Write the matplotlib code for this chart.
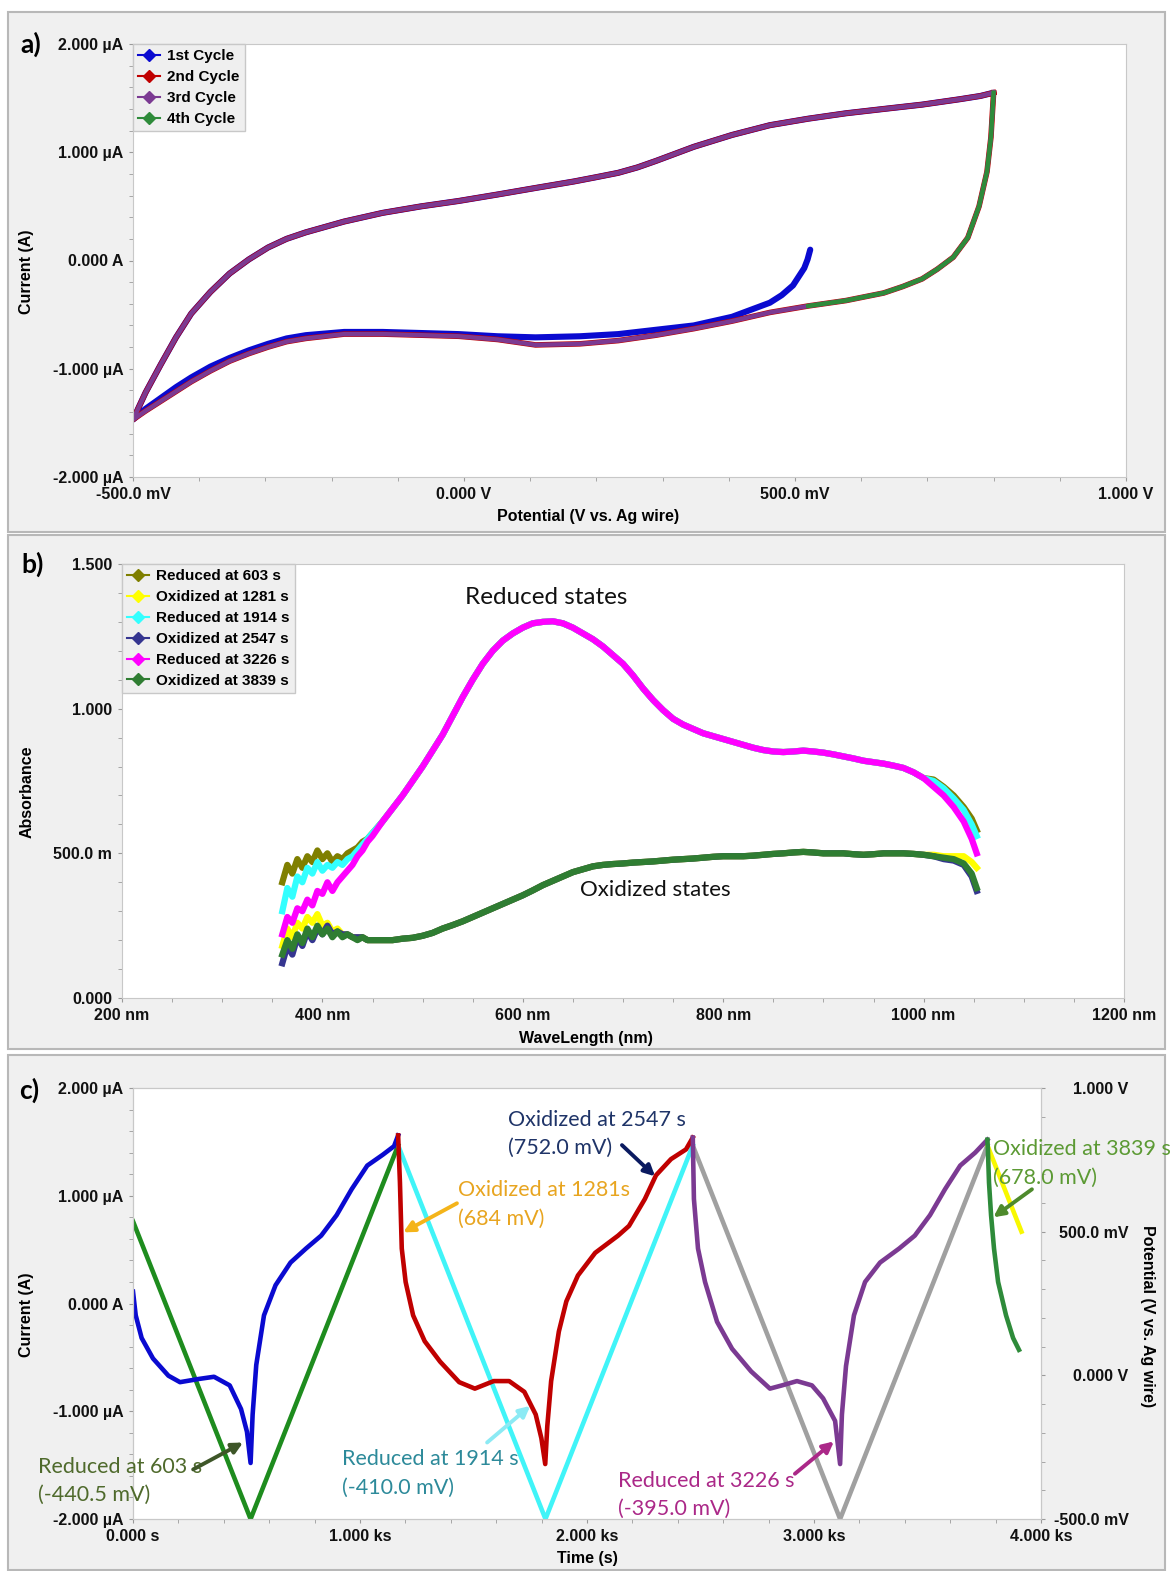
import matplotlib
matplotlib.use("Agg")
import matplotlib.pyplot as plt
from matplotlib.lines import Line2D
from matplotlib.patches import Rectangle
from matplotlib.ticker import MultipleLocator

# ---------------- data: a) cyclic voltammetry ----------------
cv_up_v = [-0.500, -0.481, -0.458, -0.435, -0.412, -0.383, -0.354, -0.325, -0.296, -0.268, -0.239,
           -0.210, -0.181, -0.123, -0.065, -0.008, 0.051, 0.108, 0.166, 0.200, 0.233, 0.262, 0.290,
           0.347, 0.405, 0.462, 0.520, 0.577, 0.634, 0.692, 0.749, 0.780, 0.800]
cv_up_i = [-1.47, -1.22, -0.96, -0.71, -0.49, -0.29, -0.12, 0.01, 0.12, 0.20, 0.26,
           0.31, 0.36, 0.44, 0.50, 0.55, 0.61, 0.67, 0.73, 0.77, 0.81, 0.86, 0.92,
           1.05, 1.16, 1.25, 1.31, 1.36, 1.40, 1.44, 1.49, 1.52, 1.55]

cv_down_v = [0.800, 0.796, 0.790, 0.778, 0.761, 0.739, 0.715, 0.692, 0.663, 0.634, 0.577, 0.520,
             0.462, 0.405, 0.347, 0.290, 0.233, 0.175, 0.108, 0.051, -0.008, -0.065,
             -0.123, -0.181, -0.239, -0.268, -0.296, -0.325, -0.354, -0.383, -0.412, -0.435,
             -0.458, -0.481, -0.500]
cv_down_i = [1.55, 1.14, 0.82, 0.50, 0.21, 0.03, -0.08, -0.17, -0.24, -0.30, -0.37, -0.42,
             -0.48, -0.56, -0.63, -0.69, -0.74, -0.77, -0.78, -0.73, -0.70, -0.69,
             -0.68, -0.68, -0.72, -0.75, -0.80, -0.86, -0.93, -1.02, -1.12, -1.21,
             -1.30, -1.39, -1.47]

cv_first_v = [0.523, 0.519, 0.514, 0.497, 0.480, 0.462, 0.405, 0.347, 0.290, 0.233, 0.175, 0.108,
              0.051, -0.008, -0.065, -0.123, -0.181, -0.239, -0.268, -0.296, -0.325, -0.354, -0.383,
              -0.412, -0.435, -0.458, -0.481, -0.500]
cv_first_i = [0.10, 0.01, -0.07, -0.23, -0.32, -0.39, -0.52, -0.60, -0.64, -0.68, -0.70, -0.71,
              -0.70, -0.68, -0.67, -0.66, -0.66, -0.69, -0.72, -0.77, -0.83, -0.90, -0.98,
              -1.08, -1.17, -1.27, -1.37, -1.47]

cv_fourth_v = [0.800, 0.796, 0.790, 0.778, 0.761, 0.739, 0.715, 0.692, 0.663, 0.634, 0.577, 0.520]
cv_fourth_i = [1.55, 1.14, 0.82, 0.50, 0.21, 0.03, -0.08, -0.17, -0.24, -0.30, -0.37, -0.42]

cycle_names = ["1st Cycle", "2nd Cycle", "3rd Cycle", "4th Cycle"]
cycle_colors = ["#0a0ad0", "#c00000", "#7b3a92", "#2e8b3a"]

# ---------------- data: b) spectra ----------------
wl_head = [360, 365, 370, 375, 380, 385, 390, 395, 400, 405, 410, 415, 420, 425, 430, 435, 440, 445, 450]
wl_body = [460, 470, 480, 490, 500, 510, 520, 530, 540, 550, 560, 570, 580, 590, 600, 610, 620, 630,
           640, 650, 660, 670, 680, 690, 700, 710, 720, 730, 740, 750, 760, 770, 780, 790, 800, 810,
           820, 830, 840, 850, 860, 870, 880, 890, 900, 910, 920, 930, 940, 950, 960, 970, 980, 990, 1000]
wl_tail = [1010, 1020, 1030, 1040, 1048, 1053]

red603_head = [0.40, 0.46, 0.43, 0.48, 0.45, 0.49, 0.47, 0.51, 0.48, 0.50, 0.47, 0.49, 0.48, 0.50, 0.51, 0.52, 0.54, 0.55, 0.57]
red1914_head = [0.30, 0.38, 0.35, 0.42, 0.40, 0.45, 0.43, 0.47, 0.44, 0.46, 0.45, 0.47, 0.46, 0.48, 0.49, 0.51, 0.53, 0.55, 0.57]
red3226_head = [0.22, 0.28, 0.26, 0.31, 0.30, 0.34, 0.32, 0.37, 0.36, 0.40, 0.37, 0.40, 0.42, 0.44, 0.46, 0.49, 0.51, 0.54, 0.56]
ox1281_head = [0.18, 0.24, 0.21, 0.26, 0.24, 0.28, 0.26, 0.29, 0.25, 0.26, 0.23, 0.24, 0.22, 0.22, 0.21, 0.21, 0.21, 0.20, 0.20]
ox2547_head = [0.12, 0.18, 0.15, 0.21, 0.18, 0.23, 0.20, 0.24, 0.22, 0.25, 0.22, 0.23, 0.22, 0.22, 0.21, 0.21, 0.21, 0.20, 0.20]
ox3839_head = [0.15, 0.20, 0.17, 0.22, 0.19, 0.24, 0.21, 0.25, 0.22, 0.24, 0.21, 0.23, 0.21, 0.22, 0.21, 0.20, 0.21, 0.20, 0.20]

red_body = [0.61, 0.655, 0.70, 0.75, 0.80, 0.855, 0.91, 0.975, 1.04, 1.10, 1.155, 1.20, 1.235, 1.26,
            1.28, 1.295, 1.30, 1.302, 1.295, 1.28, 1.26, 1.24, 1.215, 1.185, 1.155, 1.115, 1.07, 1.03,
            0.995, 0.965, 0.945, 0.93, 0.915, 0.905, 0.895, 0.885, 0.875, 0.865, 0.857, 0.852, 0.85,
            0.852, 0.855, 0.852, 0.848, 0.842, 0.835, 0.828, 0.82, 0.815, 0.81, 0.803, 0.795, 0.78, 0.76]
ox_body = [0.20, 0.20, 0.205, 0.208, 0.215, 0.225, 0.24, 0.252, 0.265, 0.28,
           0.295, 0.31, 0.325, 0.34, 0.355, 0.372, 0.39, 0.405, 0.42, 0.435,
           0.445, 0.455, 0.46, 0.463, 0.465, 0.468, 0.47, 0.472, 0.475, 0.478,
           0.48, 0.482, 0.485, 0.488, 0.49, 0.49, 0.49, 0.492, 0.495, 0.498,
           0.50, 0.503, 0.505, 0.503, 0.50, 0.50, 0.50, 0.497, 0.495, 0.497,
           0.50, 0.50, 0.50, 0.498, 0.495]

red603_tail = [0.755, 0.73, 0.70, 0.66, 0.62, 0.58]
red1914_tail = [0.75, 0.725, 0.69, 0.65, 0.60, 0.56]
red3226_tail = [0.73, 0.70, 0.66, 0.61, 0.55, 0.50]
ox1281_tail = [0.495, 0.49, 0.49, 0.49, 0.47, 0.45]
ox2547_tail = [0.49, 0.48, 0.475, 0.46, 0.42, 0.37]
ox3839_tail = [0.49, 0.485, 0.48, 0.465, 0.43, 0.38]

spec_names = ["Reduced at 603 s", "Oxidized at 1281 s", "Reduced at 1914 s",
              "Oxidized at 2547 s", "Reduced at 3226 s", "Oxidized at 3839 s"]
spec_colors = ["#7f7f00", "#ffff00", "#33ffff", "#353590", "#ff00ff", "#2f7d32"]

# ---------------- data: c) current and potential vs time ----------------
t_c1 = [0, 12, 38, 88, 156, 207, 291, 357, 426, 476, 502, 518, 527, 543, 577, 628,
        694, 762, 829, 897, 963, 1032, 1100, 1150, 1168]
i_c1 = [0.11, -0.11, -0.32, -0.51, -0.67, -0.73, -0.70, -0.68, -0.76, -0.98, -1.19, -1.48,
        -1.03, -0.57, -0.11, 0.17, 0.38, 0.51, 0.63, 0.82, 1.06, 1.28, 1.38, 1.46, 1.56]
t_c2 = [1168, 1176, 1184, 1201, 1234, 1285, 1353, 1437, 1506, 1589, 1657, 1724, 1774, 1799,
        1816, 1825, 1842, 1876, 1909, 1960, 2036, 2137, 2185, 2255, 2304, 2370, 2436, 2466]
i_c2 = [1.56, 1.12, 0.51, 0.20, -0.11, -0.35, -0.54, -0.73, -0.79, -0.72, -0.72, -0.82, -1.03,
        -1.25, -1.49, -1.14, -0.72, -0.26, 0.02, 0.26, 0.47, 0.63, 0.72, 0.97, 1.19, 1.34, 1.43, 1.54]
t_c3 = [2466, 2471, 2489, 2520, 2573, 2639, 2723, 2806, 2859, 2925, 2991, 3040, 3093, 3115,
        3123, 3141, 3176, 3225, 3291, 3375, 3444, 3511, 3577, 3644, 3710, 3764]
i_c3 = [1.54, 0.97, 0.51, 0.20, -0.17, -0.42, -0.63, -0.79, -0.76, -0.72, -0.76, -0.88, -1.09,
        -1.49, -1.03, -0.58, -0.11, 0.20, 0.38, 0.51, 0.63, 0.82, 1.06, 1.28, 1.40, 1.52]
t_c4 = [3764, 3766, 3771, 3780, 3793, 3811, 3846, 3877, 3903]
i_c4 = [1.52, 1.43, 1.12, 0.82, 0.51, 0.20, -0.11, -0.32, -0.43]

pot_t = [0, 518, 1168, 1817, 2466, 3115, 3764, 3914]
pot_v = [0.536, -0.5, 0.8, -0.5, 0.8, -0.5, 0.8, 0.5]
pot_colors = ["#1e8c1e", "#40f4f8", "#a0a0a0", "#f8f800"]

# annotation text, text anchor (t, uA), arrow tail, arrow head, text colour, arrow colour
notes = [
    ("Oxidized at 2547 s\n(752.0 mV)", (1652, 1.80), (2154, 1.47), (2300, 1.18), "#1f3468", "#0a1a60"),
    ("Oxidized at 1281s\n(684 mV)", (1432, 1.15), (1427, 0.93), (1190, 0.66), "#e8a520", "#f4b41a"),
    ("Reduced at 603 s\n(-440.5 mV)", (-418, -1.42), (265, -1.54), (485, -1.29), "#4f6a2c", "#3e5628"),
    ("Reduced at 1914 s\n(-410.0 mV)", (921, -1.35), (1560, -1.29), (1750, -0.95), "#2d8a9a", "#8ceaf4"),
    ("Reduced at 3226 s\n(-395.0 mV)", (2137, -1.55), (2916, -1.58), (3088, -1.28), "#ab2888", "#ab2888"),
    ("Oxidized at 3839 s\n(678.0 mV)", (3790, 1.53), (3960, 1.06), (3790, 0.80), "#5c9a34", "#4e8a2c"),
]

# ---------------- figure ----------------
W, H = 1176, 1571
plt.rcParams["font.family"] = ["Liberation Sans", "DejaVu Sans"]
plt.rcParams["font.weight"] = "bold"
fig = plt.figure(figsize=(W / 100, H / 100), dpi=100, facecolor="white")

for (x0, y0, x1, y1) in [(8, 12, 1165, 532), (8, 535, 1165, 1049), (8, 1055, 1165, 1570)]:
    fig.add_artist(Rectangle((x0 / W, 1 - y1 / H), (x1 - x0) / W, (y1 - y0) / H,
                             transform=fig.transFigure, facecolor="#f0f0f0",
                             edgecolor="#b8b8b8", lw=1.5, zorder=0))


def add_ax(l, t, r, b):
    ax = fig.add_axes([l / W, 1 - b / H, (r - l) / W, (b - t) / H])
    for s in ax.spines.values():
        s.set_color("#c8c8c8")
    ax.tick_params(which="both", direction="out", length=3, color="#9a9a9a",
                   labelsize=11.5, pad=4)
    return ax


def style_labels(ax):
    for lab in ax.get_xticklabels() + ax.get_yticklabels():
        lab.set_fontweight("bold")
        lab.set_color("#111111")


note_font = ["Lato", "DejaVu Sans"]
legend_prop = {"family": "Liberation Sans", "weight": "bold", "size": 11}

# ---- a) ----
ax_a = add_ax(133, 44, 1126, 477)
ax_a.plot(cv_first_v + cv_up_v[1:], cv_first_i + cv_up_i[1:], color=cycle_colors[0], lw=4.4,
          solid_capstyle="round", solid_joinstyle="round")
ax_a.plot(cv_down_v + cv_up_v[1:], cv_down_i + cv_up_i[1:], color=cycle_colors[1], lw=4.0,
          solid_joinstyle="round")
ax_a.plot(cv_down_v + cv_up_v[1:], cv_down_i + cv_up_i[1:], color=cycle_colors[2], lw=3.2,
          solid_joinstyle="round")
ax_a.plot(cv_fourth_v, cv_fourth_i, color=cycle_colors[3], lw=3.2, solid_joinstyle="round")
ax_a.set_xlim(-0.5, 1.0)
ax_a.set_ylim(-2, 2)
ax_a.set_xticks([-0.5, 0, 0.5, 1.0])
ax_a.set_xticklabels(["-500.0 mV", "0.000 V", "500.0 mV", "1.000 V"])
ax_a.set_yticks([-2, -1, 0, 1, 2])
ax_a.set_yticklabels(["-2.000 µA", "-1.000 µA", "0.000 A", "1.000 µA", "2.000 µA"])
ax_a.xaxis.set_minor_locator(MultipleLocator(0.1))
ax_a.yaxis.set_minor_locator(MultipleLocator(0.2))
style_labels(ax_a)
handles_a = [Line2D([], [], color=c, lw=1.5, marker="D", ms=6) for c in cycle_colors]
leg = ax_a.legend(handles_a, cycle_names, loc="upper left", bbox_to_anchor=(0, 1),
                  borderaxespad=0, frameon=True, fancybox=False, handlelength=1.4,
                  handletextpad=0.5, labelspacing=0.45, borderpad=0.35, prop=legend_prop)
leg.get_frame().set_facecolor("#efefef")
leg.get_frame().set_edgecolor("#c8c8c8")
leg.get_frame().set_alpha(1)

fig.text(31 / W, 1 - 44 / H, "a)", fontsize=19, fontweight="bold", family=note_font,
         ha="center", va="center")
fig.text(588 / W, 1 - 516 / H, "Potential (V vs. Ag wire)", fontsize=11.5, fontweight="bold",
         ha="center", va="center")
fig.text(27 / W, 1 - 272 / H, "Current (A)", fontsize=11.5, fontweight="bold", rotation=90,
         ha="center", va="center")

# ---- b) ----
ax_b = add_ax(122, 564, 1124, 998)
spec_heads = [red603_head, ox1281_head, red1914_head, ox2547_head, red3226_head, ox3839_head]
spec_tails = [red603_tail, ox1281_tail, red1914_tail, ox2547_tail, red3226_tail, ox3839_tail]
spec_reduced = [True, False, True, False, True, False]
for head, tail, reduced, col in zip(spec_heads, spec_tails, spec_reduced, spec_colors):
    body = red_body if reduced else ox_body
    ax_b.plot(wl_head + wl_body + wl_tail, head + body + tail, color=col, lw=4.5,
              solid_joinstyle="round")
ax_b.set_xlim(200, 1200)
ax_b.set_ylim(0, 1.5)
ax_b.set_xticks([200, 400, 600, 800, 1000, 1200])
ax_b.set_xticklabels(["200 nm", "400 nm", "600 nm", "800 nm", "1000 nm", "1200 nm"])
ax_b.set_yticks([0, 0.5, 1.0, 1.5])
ax_b.set_yticklabels(["0.000", "500.0 m", "1.000", "1.500"])
ax_b.xaxis.set_minor_locator(MultipleLocator(50))
ax_b.yaxis.set_minor_locator(MultipleLocator(0.1))
style_labels(ax_b)
handles_b = [Line2D([], [], color=c, lw=1.5, marker="D", ms=6) for c in spec_colors]
leg = ax_b.legend(handles_b, spec_names, loc="upper left", bbox_to_anchor=(0, 1),
                  borderaxespad=0, frameon=True, fancybox=False, handlelength=1.4,
                  handletextpad=0.5, labelspacing=0.45, borderpad=0.35, prop=legend_prop)
leg.get_frame().set_facecolor("#efefef")
leg.get_frame().set_edgecolor("#c8c8c8")
leg.get_frame().set_alpha(1)
ax_b.text(623, 1.385, "Reduced states", fontsize=17.5, family=note_font, fontweight="normal",
          ha="center", va="center", color="#111111")
ax_b.text(732, 0.374, "Oxidized states", fontsize=16, family=note_font, fontweight="normal",
          ha="center", va="center", color="#111111")

fig.text(33 / W, 1 - 564 / H, "b)", fontsize=19, fontweight="bold", family=note_font,
         ha="center", va="center")
fig.text(586 / W, 1 - 1038 / H, "WaveLength (nm)", fontsize=11.5, fontweight="bold",
         ha="center", va="center")
fig.text(27 / W, 1 - 792 / H, "Absorbance", fontsize=11.5, fontweight="bold", rotation=90,
         ha="center", va="center")

# ---- c) ----
ax_c = add_ax(133, 1088, 1041, 1519)
ax_r = ax_c.twinx()
for s in ax_r.spines.values():
    s.set_color("#c8c8c8")
ax_r.tick_params(which="both", direction="out", length=3, color="#9a9a9a", labelsize=11.5)

for k, col in enumerate(pot_colors):
    if k < 3:
        seg = slice(2 * k, 2 * k + 3)
    else:
        seg = slice(6, 8)
    ax_r.plot(pot_t[seg], pot_v[seg], color=col, lw=3.3, zorder=1)

# current drawn in the potential axes so the traces sit above the triangle wave
for tt, ii, col in zip([t_c1, t_c2, t_c3, t_c4], [i_c1, i_c2, i_c3, i_c4], cycle_colors):
    ax_r.plot(tt, [0.25 + v * 0.375 for v in ii], color=col, lw=3.3, zorder=2,
              solid_joinstyle="round")

ax_c.set_zorder(ax_r.get_zorder() + 1)
ax_c.patch.set_visible(False)
ax_r.patch.set_facecolor("white")
ax_r.patch.set_visible(True)

ax_c.set_xlim(0, 4000)
ax_c.set_ylim(-2, 2)
ax_r.set_ylim(-0.5, 1.0)
ax_c.set_xticks([0, 1000, 2000, 3000, 4000])
ax_c.set_xticklabels(["0.000 s", "1.000 ks", "2.000 ks", "3.000 ks", "4.000 ks"])
ax_c.set_yticks([-2, -1, 0, 1, 2])
ax_c.set_yticklabels(["-2.000 µA", "-1.000 µA", "0.000 A", "1.000 µA", "2.000 µA"])
ax_c.xaxis.set_minor_locator(MultipleLocator(200))
ax_c.yaxis.set_minor_locator(MultipleLocator(0.2))
ax_r.set_yticks([-0.5, 0, 0.5, 1.0])
ax_r.set_yticklabels(["-500.0 mV", "0.000 V", "500.0 mV", "1.000 V"])
ax_r.yaxis.set_minor_locator(MultipleLocator(0.1))
ax_r.tick_params(axis="y", pad=60)
for lab in ax_r.get_yticklabels():
    lab.set_horizontalalignment("right")
style_labels(ax_c)
style_labels(ax_r)

for text, xy_text, tail, head, tcol, acol in notes:
    ax_c.text(xy_text[0], xy_text[1], text, fontsize=15.5, family=note_font, fontweight="normal",
              color=tcol, ha="left", va="top", linespacing=1.55, clip_on=False, zorder=5)
    ax_c.annotate("", xy=head, xytext=tail,
                  arrowprops=dict(arrowstyle="-|>", color=acol, lw=2.8, mutation_scale=16,
                                  shrinkA=0, shrinkB=0), zorder=5, annotation_clip=False)

fig.text(29 / W, 1 - 1090 / H, "c)", fontsize=19, fontweight="bold", family=note_font,
         ha="center", va="center")
fig.text(587 / W, 1 - 1559 / H, "Time (s)", fontsize=11.5, fontweight="bold",
         ha="center", va="center")
fig.text(27 / W, 1 - 1315 / H, "Current (A)", fontsize=11.5, fontweight="bold", rotation=90,
         ha="center", va="center")
fig.text(1148 / W, 1 - 1316 / H, "Potential (V vs. Ag wire)", fontsize=11.5, fontweight="bold",
         rotation=270, ha="center", va="center")

fig.savefig("out.png", dpi=100, facecolor="white")
